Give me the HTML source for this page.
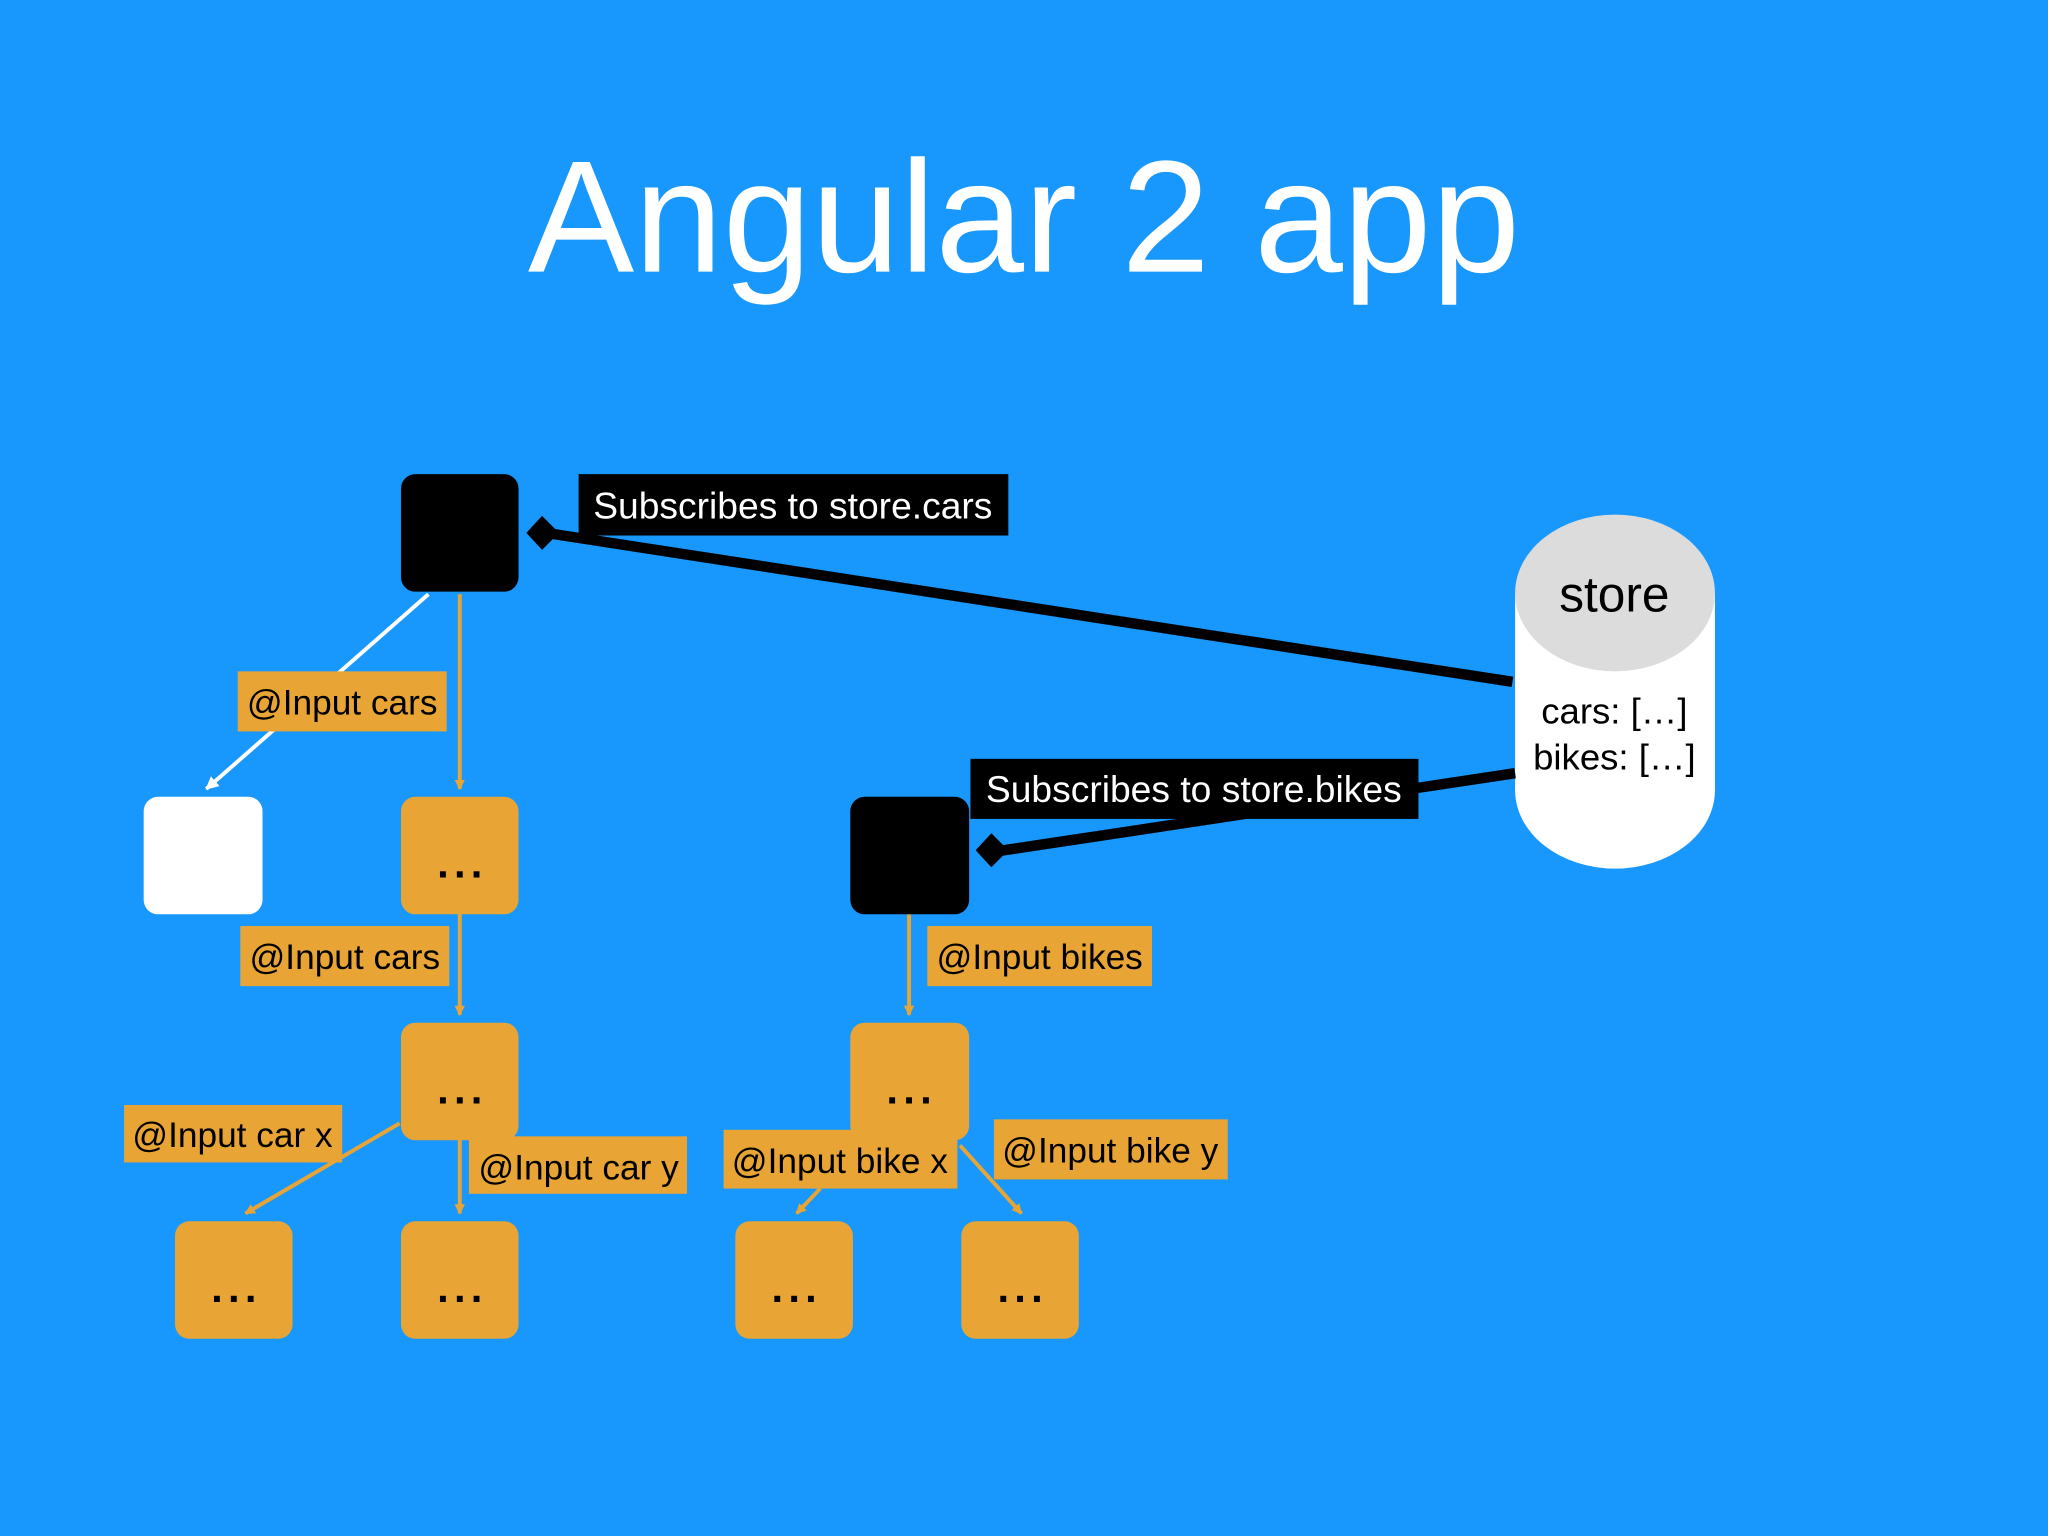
<!DOCTYPE html>
<html><head><meta charset="utf-8"><style>
html,body{margin:0;padding:0;background:#1897fc;}
svg{display:block}
text{font-family:"Liberation Sans",sans-serif}
</style></head><body>
<svg width="2048" height="1536" viewBox="0 0 1568 1176" xmlns="http://www.w3.org/2000/svg">
<defs>
<marker id="ao" markerWidth="8" markerHeight="8" refX="7" refY="4" orient="auto" markerUnits="userSpaceOnUse"><path d="M0,0 L8,4 L0,8 Z" fill="#e8a535"/></marker>
<marker id="aw" markerWidth="10" markerHeight="10" refX="9" refY="5" orient="auto" markerUnits="userSpaceOnUse"><path d="M0,0 L10,5 L0,10 Z" fill="#fff"/></marker>
</defs>
<rect width="1568" height="1176" fill="#1897fc"/>
<text x="784" y="208" font-size="122" fill="#fff" text-anchor="middle">Angular 2 app</text>

<line x1="328" y1="455" x2="158" y2="604" stroke="#fff" stroke-width="3" marker-end="url(#aw)"/>
<line x1="352" y1="455" x2="352" y2="604" stroke="#e8a535" stroke-width="3" marker-end="url(#ao)"/>
<line x1="352" y1="700" x2="352" y2="777" stroke="#e8a535" stroke-width="3" marker-end="url(#ao)"/>
<line x1="352" y1="873" x2="352" y2="929" stroke="#e8a535" stroke-width="3" marker-end="url(#ao)"/>
<line x1="306" y1="860" x2="188" y2="929" stroke="#e8a535" stroke-width="3" marker-end="url(#ao)"/>
<line x1="696" y1="700" x2="696" y2="777" stroke="#e8a535" stroke-width="3" marker-end="url(#ao)"/>
<line x1="628" y1="910" x2="610" y2="929" stroke="#e8a535" stroke-width="3" marker-end="url(#ao)"/>
<line x1="735" y1="877" x2="782" y2="929" stroke="#e8a535" stroke-width="3" marker-end="url(#ao)"/>

<rect x="1160" y="455" width="153" height="150" fill="#fff"/>
<ellipse cx="1236.5" cy="605" rx="76.5" ry="60" fill="#fff"/>
<ellipse cx="1236.5" cy="454" rx="76.5" ry="60" fill="#dcdcdc"/>
<text x="1236" y="468" font-size="38" text-anchor="middle" fill="#000">store</text>
<text x="1236" y="554" font-size="28" text-anchor="middle" fill="#000">cars: […]</text>
<text x="1236" y="589" font-size="28" text-anchor="middle" fill="#000">bikes: […]</text>

<line x1="1158" y1="522" x2="418" y2="408" stroke="#000" stroke-width="8"/>
<path d="M403,408 L415,395 L428,408 L415,421 Z" fill="#000"/>
<line x1="1160" y1="592" x2="762" y2="652" stroke="#000" stroke-width="8"/>
<path d="M747,651 L759,638 L772,651 L759,664 Z" fill="#000"/>

<rect x="307" y="363" width="90" height="90" rx="11" fill="#000"/>
<rect x="110" y="610" width="91" height="90" rx="11" fill="#fff"/>
<rect x="651" y="610" width="91" height="90" rx="11" fill="#000"/>
<g fill="#e8a535">
<rect x="307" y="610" width="90" height="90" rx="11"/>
<rect x="307" y="783" width="90" height="90" rx="11"/>
<rect x="134" y="935" width="90" height="90" rx="11"/>
<rect x="307" y="935" width="90" height="90" rx="11"/>
<rect x="651" y="783" width="91" height="90" rx="11"/>
<rect x="563" y="935" width="90" height="90" rx="11"/>
<rect x="736" y="935" width="90" height="90" rx="11"/>
</g>
<g font-size="32" font-weight="bold" fill="#000" text-anchor="middle" letter-spacing="4">
<text x="354" y="672">...</text>
<text x="354" y="845">...</text>
<text x="181" y="997">...</text>
<text x="354" y="997">...</text>
<text x="698" y="845">...</text>
<text x="610" y="997">...</text>
<text x="783" y="997">...</text>
</g>

<rect x="443" y="363" width="329" height="47" fill="#000"/>
<text x="607" y="397" font-size="28.5" fill="#fff" text-anchor="middle">Subscribes to store.cars</text>
<rect x="743" y="581" width="343" height="46" fill="#000"/>
<text x="914" y="614" font-size="28.5" fill="#fff" text-anchor="middle">Subscribes to store.bikes</text>

<g fill="#e8a535">
<rect x="182" y="514" width="160" height="46"/>
<rect x="184" y="709" width="160" height="46"/>
<rect x="95" y="846" width="167" height="44"/>
<rect x="359" y="870" width="167" height="44"/>
<rect x="710" y="709" width="172" height="46"/>
<rect x="554" y="865" width="179" height="45"/>
<rect x="761" y="857" width="179" height="46"/>
</g>
<g font-size="27" fill="#000" text-anchor="middle">
<text x="262" y="547">@Input cars</text>
<text x="264" y="742">@Input cars</text>
<text x="178" y="878">@Input car x</text>
<text x="443" y="903">@Input car y</text>
<text x="796" y="742">@Input bikes</text>
<text x="643" y="898">@Input bike x</text>
<text x="850" y="890">@Input bike y</text>
</g>
</svg>
</body></html>
